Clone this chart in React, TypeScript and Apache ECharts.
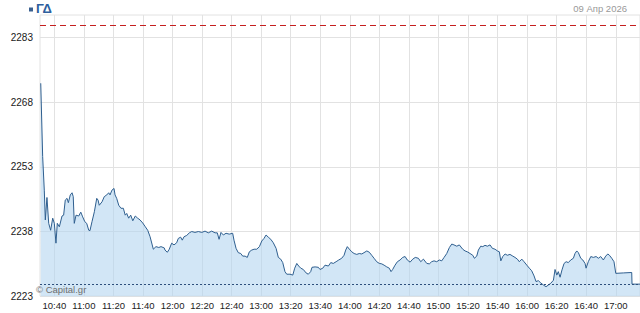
import React, { useEffect, useRef } from "react";
import * as echarts from "echarts";

// Trade times in minutes after midnight (10:30 = 630)
const times: number[] = [
  630.8, 632.1, 633.2, 633.9, 635.0, 636.2, 637.5, 638.9, 640.0, 641.1, 642.0, 643.4,
  645.2, 646.3, 647.4, 648.6, 649.5, 650.8, 652.0, 652.8, 653.5, 654.7, 656.5, 657.9,
  659.2, 660.6, 661.9, 663.3, 664.1, 665.5, 667.1, 668.7, 669.6, 670.4, 672.3, 673.8,
  675.5, 676.8, 677.7, 679.0, 680.4, 681.1, 682.2, 683.6, 685.1, 686.7, 688.0, 689.0,
  690.3, 691.7, 693.1, 694.8, 696.4, 698.0, 699.8, 701.6, 703.2, 704.8, 706.1, 707.0,
  708.8, 710.7, 712.2, 714.4, 714.9, 716.5, 717.8, 719.4, 721.0, 722.8, 723.9, 725.5,
  726.6, 727.8, 729.6, 731.4, 733.0, 735.2, 737.5, 739.8, 742.0, 744.2, 746.5, 748.8,
  750.3, 751.5, 752.8, 754.4, 756.2, 758.4, 760.7, 761.6, 763.0, 764.5, 766.2, 767.5,
  769.1, 770.6, 772.0, 773.6, 775.2, 777.0, 778.8, 780.4, 781.9, 783.3, 784.8, 786.5,
  788.2, 790.1, 791.6, 793.2, 794.6, 796.1, 797.3, 799.5, 801.4, 802.7, 804.1, 805.4,
  806.8, 808.5, 810.4, 811.9, 813.5, 814.4, 816.5, 818.7, 819.8, 821.7, 823.2, 825.5,
  827.1, 828.8, 830.7, 832.5, 834.5, 836.1, 837.2, 838.3, 839.7, 841.3, 842.9, 844.7,
  846.4, 848.1, 849.6, 851.5, 853.2, 854.8, 856.4, 858.2, 860.0, 861.6, 863.2, 865.0,
  866.7, 867.9, 869.0, 870.6, 872.2, 874.0, 875.8, 877.4, 878.9, 880.8, 882.6, 884.3,
  886.4, 888.0, 889.8, 892.1, 893.8, 895.4, 897.0, 898.8, 900.6, 902.2, 903.8, 905.6,
  907.4, 909.0, 910.5, 912.4, 914.1, 916.4, 918.0, 919.5, 921.4, 923.2, 924.3, 925.9,
  927.0, 928.6, 930.0, 931.5, 933.1, 934.9, 936.5, 938.3, 939.9, 941.2, 942.2, 943.5,
  945.1, 946.6, 948.4, 950.3, 951.8, 953.4, 954.7, 956.4, 957.9, 959.8, 961.5, 963.1,
  964.7, 966.0, 967.6, 969.2, 971.0, 972.8, 974.4, 976.0, 977.8, 978.9, 980.1, 981.1,
  982.3, 983.6, 985.0, 986.4, 987.9, 989.5, 991.3, 992.4, 993.6, 994.7, 996.3, 997.7,
  999.2, 999.9, 1001.4, 1003.1, 1004.8, 1006.7, 1008.2, 1009.8, 1011.6, 1013.2, 1014.6, 1015.7,
  1017.3, 1018.8, 1020.0, 1025.1, 1030.8, 1031.0, 1036.4,
];

const prices: number[] = [
  2272.4, 2255.4, 2247.6, 2240.7, 2245.9, 2239.9, 2238.3, 2241.1, 2239.9, 2235.3, 2239.9, 2239.1,
  2241.6, 2241.8, 2245.3, 2245.7, 2244.7, 2246.5, 2247.0, 2246.1, 2239.9, 2241.8, 2241.6, 2242.5,
  2241.4, 2240.3, 2239.9, 2238.3, 2238.2, 2240.3, 2242.6, 2245.7, 2245.3, 2244.1, 2244.9, 2246.1,
  2246.5, 2247.0, 2246.5, 2247.6, 2248.0, 2246.5, 2245.7, 2244.1, 2243.4, 2243.4, 2241.8, 2242.2,
  2241.1, 2241.8, 2240.5, 2241.6, 2241.1, 2240.7, 2240.0, 2239.1, 2238.3, 2236.8, 2235.1, 2233.9,
  2234.5, 2234.3, 2234.5, 2234.2, 2233.7, 2233.2, 2233.9, 2235.3, 2234.9, 2235.4, 2236.4, 2236.7,
  2236.0, 2236.8, 2237.1, 2237.7, 2238.0, 2237.8, 2238.0, 2237.8, 2238.1, 2237.7, 2238.1, 2237.7,
  2237.7, 2236.2, 2237.8, 2237.2, 2237.6, 2237.4, 2237.6, 2236.0, 2234.1, 2233.1, 2232.9, 2232.3,
  2232.3, 2232.0, 2233.3, 2233.7, 2233.9, 2233.9, 2234.5, 2235.8, 2236.4, 2237.2, 2236.7, 2236.2,
  2235.4, 2234.1, 2232.0, 2231.6, 2230.8, 2228.7, 2228.1, 2228.1, 2227.9, 2229.5, 2230.6, 2230.0,
  2229.5, 2229.2, 2228.4, 2228.1, 2228.7, 2229.7, 2229.8, 2229.7, 2229.2, 2229.5, 2230.2, 2230.0,
  2230.8, 2230.6, 2231.0, 2231.4, 2231.8, 2232.5, 2233.7, 2234.5, 2233.9, 2233.3, 2232.9, 2232.7,
  2232.9, 2232.8, 2233.1, 2233.5, 2233.2, 2232.5, 2231.8, 2231.0, 2230.6, 2230.5, 2230.2, 2229.8,
  2229.5, 2228.7, 2229.2, 2230.2, 2231.0, 2231.4, 2232.0, 2232.2, 2231.4, 2230.9, 2231.6, 2232.0,
  2231.8, 2231.0, 2231.6, 2230.6, 2230.5, 2231.0, 2231.2, 2231.0, 2231.4, 2231.2, 2232.0, 2232.9,
  2234.3, 2235.1, 2234.9, 2234.6, 2234.9, 2233.9, 2233.5, 2233.3, 2232.9, 2232.5, 2231.8, 2232.3,
  2233.7, 2234.6, 2234.5, 2234.8, 2234.6, 2234.9, 2234.1, 2233.9, 2233.5, 2233.3, 2231.2, 2232.2,
  2232.8, 2232.5, 2232.7, 2232.3, 2232.0, 2231.6, 2231.0, 2231.6, 2231.0, 2230.2, 2229.5, 2228.9,
  2227.7, 2226.4, 2226.6, 2226.1, 2225.6, 2225.2, 2225.6, 2226.0, 2226.7, 2229.2, 2227.9, 2228.7,
  2227.4, 2229.1, 2230.6, 2231.0, 2230.8, 2231.4, 2231.8, 2232.9, 2233.5, 2233.1, 2231.8, 2231.4,
  2230.6, 2229.5, 2231.0, 2232.2, 2232.0, 2232.2, 2231.8, 2232.2, 2231.4, 2232.3, 2232.8, 2232.5,
  2231.8, 2231.0, 2228.3, 2228.4, 2228.5, 2225.8, 2225.8,
];

const xTickMinutes: number[] = [640, 660, 680, 700, 720, 740, 760, 780, 800, 820, 840, 860, 880, 900, 920, 940, 960, 980, 1000, 1020];
const yTicks: number[] = [2223, 2238, 2253, 2268, 2283];
const previousClose = 2285.8;
const lastPrice = 2225.8;
const titleText = "ΓΔ";
const dateText = "09 Апр 2026";
const copyrightText = "© Capital.gr";

const FONT = 'Arial, "Liberation Sans", sans-serif';

function fmtTime(m: number): string {
  const h = Math.floor(m / 60);
  const mm = Math.round(m - h * 60);
  return `${h}:${mm < 10 ? "0" + mm : mm}`;
}

export default function App() {
  const ref = useRef<HTMLDivElement>(null);
  useEffect(() => {
    if (!ref.current) return;
    const chart = echarts.init(ref.current, null, { renderer: "svg" });
    const data = times.map((t, i) => [t, prices[i]]);
    chart.setOption({
      animation: false,
      backgroundColor: "#ffffff",
      grid: {
        left: 40,
        right: 0,
        top: 15,
        bottom: 16.8,
        show: true,
        borderColor: "#e2e2e2",
        borderWidth: 1,
      },
      xAxis: {
        type: "value",
        min: 630.3,
        max: 1036.4,
        axisLine: { show: false },
        axisTick: { show: false, customValues: xTickMinutes },
        axisLabel: {
          customValues: xTickMinutes,
          formatter: (v: number) => fmtTime(v),
          color: "#222",
          fontSize: 9.5,
          fontFamily: FONT,
          margin: 4,
        },
        splitLine: { show: true, lineStyle: { color: "#e2e2e2", width: 1 } },
      },
      yAxis: {
        type: "value",
        min: 2223,
        max: 2288.24,
        axisLine: { show: false },
        axisTick: { show: false, customValues: yTicks },
        axisLabel: {
          customValues: yTicks,
          formatter: (v: number) => String(Math.round(v)),
          color: "#1a1a1a",
          fontSize: 10,
          fontFamily: FONT,
          margin: 7,
        },
        splitLine: { show: true, lineStyle: { color: "#e2e2e2", width: 1 } },
      },
      series: [
        {
          type: "line",
          data,
          showSymbol: false,
          symbol: "none",
          lineStyle: { color: "#2f5f8f", width: 1 },
          areaStyle: { color: "rgba(178,212,240,0.58)", opacity: 1, origin: "start" },
          z: 2,
        },
        {
          type: "line",
          data: [],
          markLine: {
            silent: true,
            symbol: "none",
            label: { show: false },
            lineStyle: { color: "#c41f1f", type: [6, 4], width: 1, opacity: 1 },
            data: [{ yAxis: previousClose }],
          },
          z: 3,
        },
        {
          type: "line",
          data: [],
          markLine: {
            silent: true,
            symbol: "none",
            label: { show: false },
            lineStyle: { color: "#2d4f7c", type: [2, 2], width: 1, opacity: 1 },
            data: [{ yAxis: lastPrice }],
          },
          z: 3,
        },
      ],
      graphic: [
        { type: "rect", z: 100, shape: { x: 29, y: 7.5, width: 4, height: 4 }, style: { fill: "#3a6090" } },
        {
          type: "text",
          z: 100,
          x: 36,
          y: 1.5,
          style: { text: titleText, fill: "#2e5f9e", font: `bold 13px ${FONT}` },
        },
        {
          type: "text",
          z: 100,
          right: 13,
          top: 3,
          style: { text: dateText, fill: "#999", font: `9.5px ${FONT}` },
        },
        {
          type: "text",
          z: 100,
          x: 36,
          y: 284.5,
          style: { text: copyrightText, fill: "#6e6e6e", font: `9.5px ${FONT}` },
        },
      ],
    });
    return () => chart.dispose();
  }, []);
  return (
    <div
      ref={ref}
      style={{ position: "absolute", left: 0, top: 0, width: 640, height: 313 }}
    />
  );
}
